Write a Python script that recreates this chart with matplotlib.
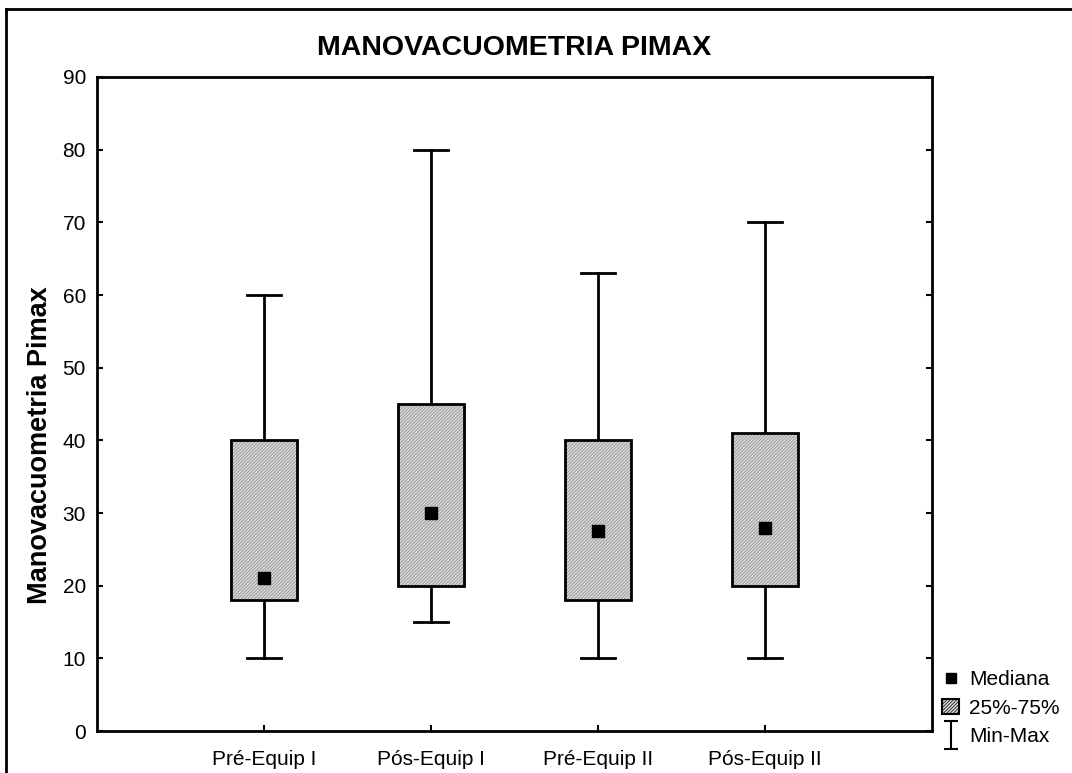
import numpy as np
import matplotlib
matplotlib.use("Agg")
import matplotlib.pyplot as plt
from matplotlib.lines import Line2D
from matplotlib.patches import Rectangle
from matplotlib.path import Path

plt.rcParams['font.family'] = ['Liberation Sans', 'DejaVu Sans']
plt.rcParams['hatch.linewidth'] = 0.5

groups = ["Pré-Equip I", "Pós-Equip I", "Pré-Equip II", "Pós-Equip II"]
mins = [10, 15, 10, 10]
q1 = [18, 20, 18, 20]
medians = [21, 30, 27.5, 28]
q3 = [40, 45, 40, 41]
maxs = [60, 80, 63, 70]

fill = '#d6d6d6'
hatch_col = '#8c8c8c'
hatch = '//////////'

fig = plt.figure(figsize=(10.72, 7.73), dpi=100)
ax = fig.add_axes([0.0905, 0.0543, 0.7789, 0.8461])

box_w = 0.4
cap_w = 0.2
for i, g in enumerate(groups):
    x = i + 1
    ax.plot([x, x], [mins[i], q1[i]], color='black', lw=2, zorder=2)
    ax.plot([x, x], [q3[i], maxs[i]], color='black', lw=2, zorder=2)
    ax.plot([x - cap_w / 2, x + cap_w / 2], [mins[i], mins[i]], color='black', lw=2)
    ax.plot([x - cap_w / 2, x + cap_w / 2], [maxs[i], maxs[i]], color='black', lw=2)
    ax.add_patch(Rectangle((x - box_w / 2, q1[i]), box_w, q3[i] - q1[i],
                           facecolor=fill, edgecolor=hatch_col, hatch=hatch,
                           lw=0, zorder=3))
    ax.add_patch(Rectangle((x - box_w / 2, q1[i]), box_w, q3[i] - q1[i],
                           facecolor='none', edgecolor='black', lw=2, zorder=4))
    ax.plot(x, medians[i], marker='s', color='black', markersize=8, zorder=5, ls='none')

ax.set_xlim(0, 5)
ax.set_ylim(0, 90)
ax.set_xticks(range(1, len(groups) + 1))
ax.set_xticklabels(groups, fontsize=15)
ax.set_yticks(np.arange(0, 91, 10))
ax.tick_params(axis='y', labelsize=15, direction='in', length=4, width=1.5, right=True, pad=8)
ax.tick_params(axis='x', direction='in', length=4, width=1.5, pad=14)
for s in ax.spines.values():
    s.set_linewidth(2)

ax.set_title("MANOVACUOMETRIA PIMAX", fontsize=20.5, fontweight='bold', pad=16)
ax.set_ylabel("Manovacuometria Pimax", fontsize=19.5, fontweight='bold')
ax.yaxis.set_label_coords(-0.053, 0.437)

# legend
ibeam = Path([(-0.5, -1), (0.5, -1), (0, -1), (0, 1), (-0.5, 1), (0.5, 1)],
             [Path.MOVETO, Path.LINETO, Path.MOVETO, Path.LINETO, Path.MOVETO, Path.LINETO])
handles = [
    Line2D([], [], marker='s', color='black', ls='none', markersize=7),
    Rectangle((0, 0), 1, 1, facecolor=fill, edgecolor='black', hatch=hatch, lw=1.5),
    Line2D([], [], marker=ibeam, color='black', ls='none', markersize=20,
           markeredgewidth=1.5),
]
fig.legend(handles, ["Mediana", "25%-75%", "Min-Max"], loc='lower left',
           bbox_to_anchor=(0.879, 0.035), frameon=False, fontsize=15,
           handlelength=0.8, handletextpad=0.5, labelspacing=0.45,
           borderpad=0, borderaxespad=0)

# outer frame (left and top)
fig.add_artist(Line2D([6 / 1072, 6 / 1072], [0, 1 - 9 / 773], transform=fig.transFigure, color='black', lw=2))
fig.add_artist(Line2D([6 / 1072, 1], [1 - 9 / 773, 1 - 9 / 773], transform=fig.transFigure, color='black', lw=2))

fig.savefig("out.png", dpi=100)
